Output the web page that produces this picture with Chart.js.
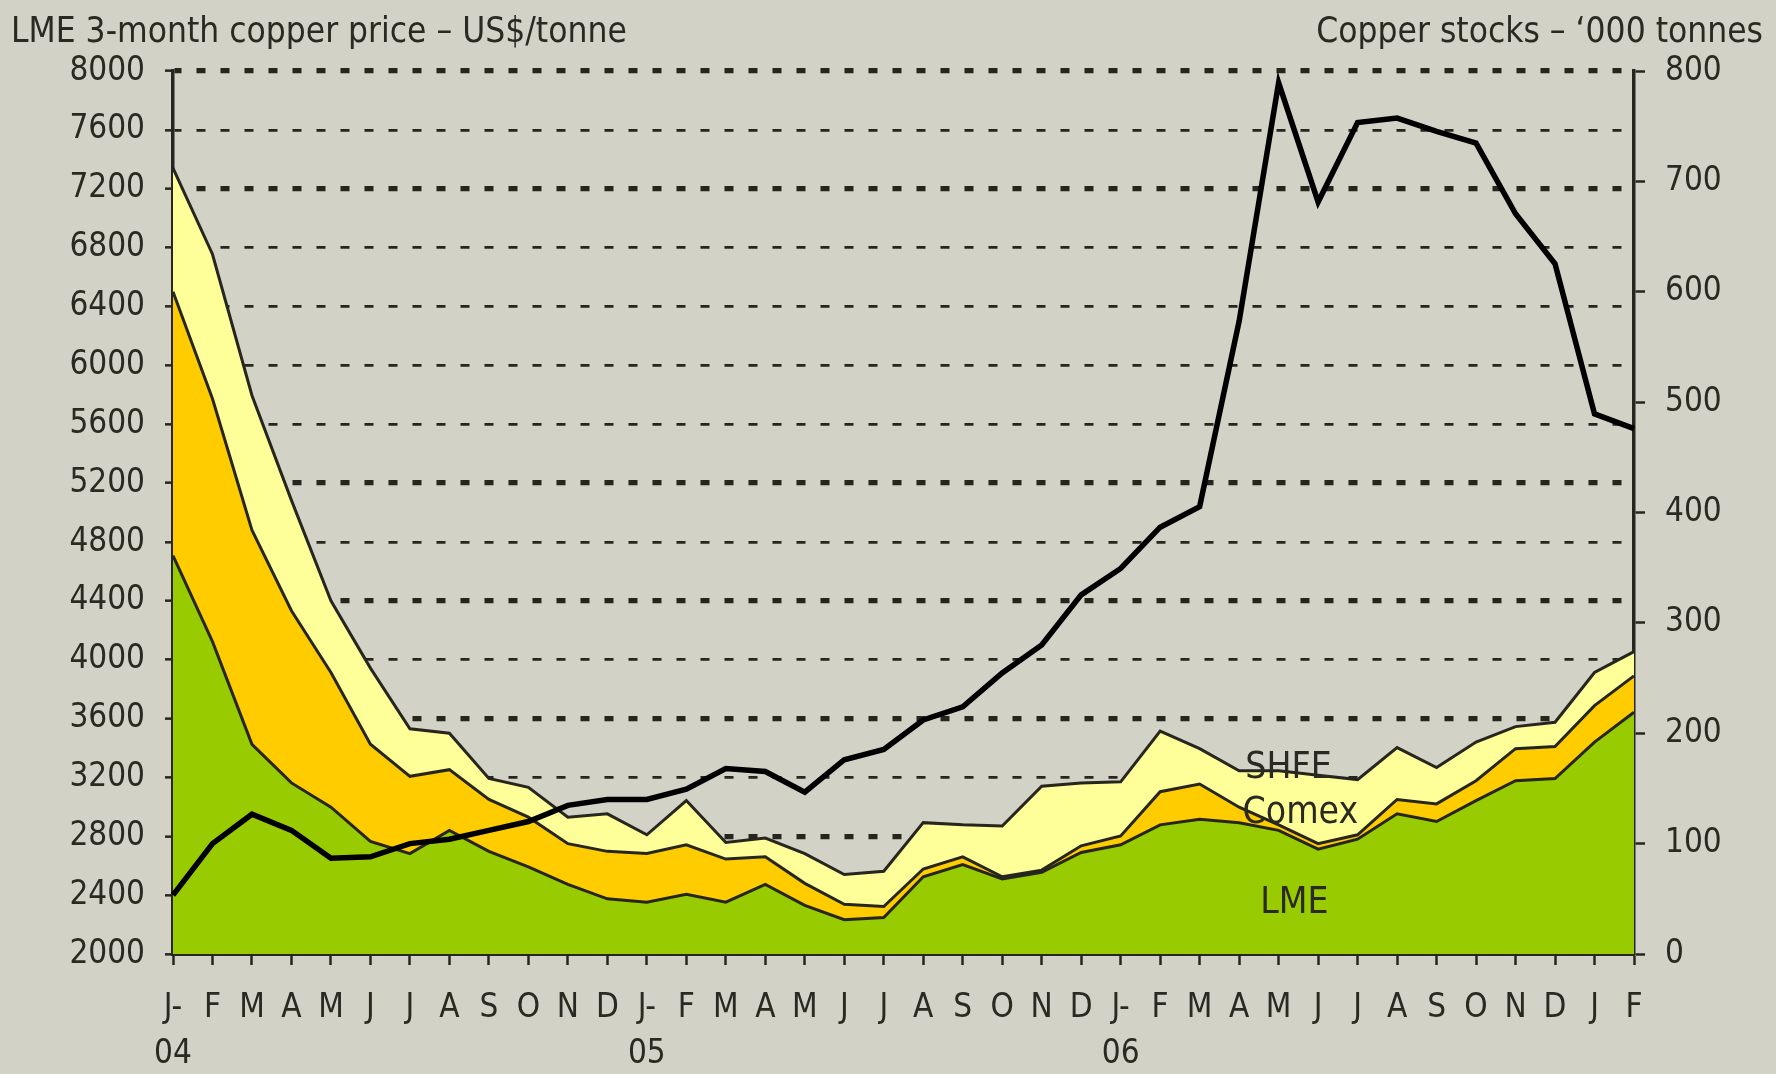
<!DOCTYPE html>
<html>
<head>
<meta charset="utf-8">
<script src="https://cdn.jsdelivr.net/npm/chart.js@4.4.1/dist/chart.umd.min.js"></script>
<style>
body{margin:0;background:#d2d2c6;}
#wrap{position:relative;width:1776px;height:1074px;}
.ttl{position:absolute;top:6px;font-family:'DejaVu Sans Condensed','Liberation Sans Narrow','Liberation Sans',sans-serif;font-size:35px;color:#2a2a22;line-height:48px;white-space:nowrap;}
</style>
</head>
<body>
<div id="wrap">
<canvas id="copperChart" width="1776" height="1074"></canvas>
<div class="ttl" style="left:11px">LME 3-month copper price – US$/tonne</div>
<div class="ttl" style="right:13px">Copper stocks – ‘000 tonnes</div>
</div>
<script>
const months=[["J-","04"],"F","M","A","M","J","J","A","S","O","N","D",
["J-","05"],"F","M","A","M","J","J","A","S","O","N","D",
["J-","06"],"F","M","A","M","J","J","A","S","O","N","D","J","F"];

// LME 3-month price, US$/tonne (left axis)
const price=[2400,2750,2950,2840,2650,2660,2750,2780,2840,2900,3010,3050,
3050,3120,3260,3240,3100,3320,3390,3590,3680,3910,4100,4440,
4620,4900,5040,6300,7920,7110,7650,7680,7590,7510,7030,6690,5670,5570];

// stocks, '000 tonnes (right axis, stacked)
const lmeStocks=[361,283,190,155,133,102,91,112,93,79,63,50,
47,54,47,63,44,31,33,70,81,68,74,92,
99,117,122,119,112,95,104,127,120,139,157,159,192,219];
const comexStocks=[239,220,194,156,122,88,70,55,47,45,37,43,
44,45,39,25,20,14,10,7,7,2,2,6,
8,30,32,14,5,5,4,13,16,18,29,29,33,33];
const shfeStocks=[112,131,122,100,65,69,43,33,19,27,24,34,
17,40,15,17,27,27,32,42,29,46,76,57,
49,55,32,33,49,62,50,47,33,35,20,22,30,22];

const priceTicks=[2000,2400,2800,3200,3600,4000,4400,4800,5200,5600,6000,6400,6800,7200,7600,8000];
const heavyGrid=[8000,7200,5200,4400,3600,2800];

const areaNames=["SHFE","Comex","LME"];
const areaNameIdx=[28.25,28.55,28.4];
const areaNameVal=[168,127,46];

const ink='#26261f';
const fontFam="'DejaVu Sans Condensed','Liberation Sans Narrow','Liberation Sans',sans-serif";

const areaText={
  id:'areaText',
  afterDatasetsDraw(chart){
    const {ctx,scales:{x,y2}}=chart;
    ctx.save();
    ctx.font='37px '+fontFam;
    ctx.fillStyle='#2a2a22';
    ctx.textAlign='center';
    ctx.textBaseline='middle';
    areaNames.forEach((n,i)=>{
      ctx.fillText(n,x.getPixelForValue(areaNameIdx[i]),y2.getPixelForValue(areaNameVal[i]));
    });
    ctx.restore();
  }
};

new Chart(document.getElementById('copperChart'),{
type:'line',
data:{
labels:months,
datasets:[{
label:"LME 3-month price",
data:price,
yAxisID:'y',
borderColor:'#000',
borderWidth:5.5,
pointRadius:0,
fill:false
},{
label:"LME",
data:lmeStocks,
yAxisID:'y2',
backgroundColor:'#99cc00',
borderColor:ink,
borderWidth:3,
pointRadius:0,
fill:'origin'
},{
label:"Comex",
data:comexStocks,
yAxisID:'y2',
backgroundColor:'#ffcc00',
borderColor:ink,
borderWidth:3,
pointRadius:0,
fill:'-1'
},{
label:"SHFE",
data:shfeStocks,
yAxisID:'y2',
backgroundColor:'#ffff99',
borderColor:ink,
borderWidth:3,
pointRadius:0,
fill:'-1'
}]
},
options:{
responsive:false,
animation:false,
layout:{padding:{top:71}},
plugins:{legend:{display:false},tooltip:{enabled:false}},
scales:{
x:{
grid:{drawOnChartArea:false,tickLength:11,tickWidth:2.5,tickColor:ink},
border:{width:4,color:ink},
ticks:{autoSkip:false,maxRotation:0,color:'#2a2a22',padding:20,font:{family:fontFam,size:33,lineHeight:1.41}},
afterFit(s){s.height=120;}
},
y:{
position:'left',
min:2000,max:8000,
afterBuildTicks(s){s.ticks=priceTicks.map(v=>({value:v}));},
grid:{
color:ink,
lineWidth:c=>heavyGrid.includes(c.tick&&c.tick.value)?5.3:2.7,
tickLength:8,tickWidth:2.5,tickColor:ink
},
border:{width:3.5,color:ink,dash:[9,15],dashOffset:2},
ticks:{color:'#2a2a22',padding:20,font:{family:fontFam,size:33},callback:v=>String(v)},
afterFit(s){s.width=173;}
},
y2:{
position:'right',
stacked:true,
min:0,max:800,
ticks:{stepSize:100,color:'#2a2a22',padding:20,font:{family:fontFam,size:33},callback:v=>String(v)},
grid:{drawOnChartArea:false,tickLength:11,tickWidth:2.5,tickColor:ink},
border:{width:3.5,color:ink},
afterFit(s){s.width=142;}
}
}
},
plugins:[areaText]
});
</script>
</body>
</html>
